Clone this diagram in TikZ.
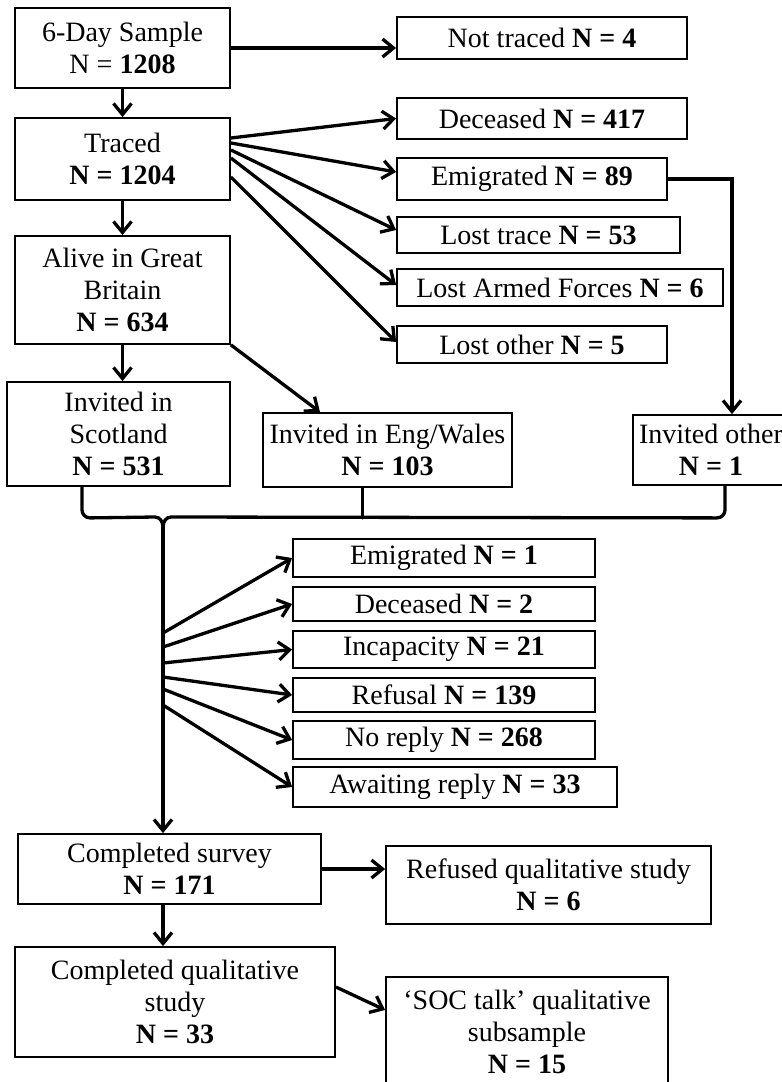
\documentclass[tikz,border=0pt]{standalone}
\usepackage{fontspec}
\setmainfont{Liberation Serif}
\usetikzlibrary{arrows.meta}
\tikzset{
    box/.style={draw,line width=1.8pt,inner sep=0pt,align=center},
    myarrow/.style={-{Straight Barb[length=11pt,width=18pt]},line width=3.3pt},
    myline/.style={line width=3.3pt,line cap=round}
}
\begin{document}
\begin{tikzpicture}[x=1pt,y=-1pt,font=\fontsize{28}{32}\selectfont]
\path[use as bounding box,fill=white](0,0) rectangle (782,1082);
% first column
\node[box,minimum width=215pt,minimum height=80pt](sample) at (122.5,48){6-Day Sample\\N = \textbf{1208}};
\node[box,minimum width=215pt,minimum height=82pt](traced) at (122.5,159){Traced\\\textbf{N = 1204}};
\node[box,minimum width=215pt,minimum height=108pt](alive) at (122.5,290){Alive in Great\\Britain\\\textbf{N = 634}};
% losses after tracing
\node[box,minimum width=290pt,minimum height=42pt](nottraced) at (542,38){Not traced \textbf{N = 4}};
\node[box,minimum width=290pt,minimum height=41pt](deceased) at (542,118.5){Deceased \textbf{N = 417}};
\node[box,minimum width=270pt,minimum height=42pt](emigrated) at (532,179){Emigrated \textbf{N = 89}};
\node[box,minimum width=283pt,minimum height=36pt](losttrace) at (538.5,235){Lost trace \textbf{N = 53}};
\node[box,minimum width=326pt,minimum height=37pt](lostforces) at (560,287.5){Lost Armed Forces \textbf{N = 6}};
\node[box,minimum width=270pt,minimum height=37pt](lostother) at (532,344.5){Lost other \textbf{N = 5}};
% invited
\node[box,minimum width=223pt,minimum height=104pt](scotland) at (118.5,434){Invited in\\Scotland\\\textbf{N = 531}};
\node[box,minimum width=249pt,minimum height=74pt](engwales) at (387.5,450){Invited in Eng/Wales\\\textbf{N = 103}};
\node[box,minimum width=156pt,minimum height=70pt](invother) at (711,450){Invited other\\\textbf{N = 1}};
% survey outcomes
\node[box,minimum width=302pt,minimum height=38pt](emigone) at (444,558){Emigrated \textbf{N = 1}};
\node[box,minimum width=302pt,minimum height=34pt](decone) at (444,604){Deceased \textbf{N = 2}};
\node[box,minimum width=302pt,minimum height=37pt](incap) at (444,649.5){Incapacity \textbf{N = 21}};
\node[box,minimum width=302pt,minimum height=34pt](refusal) at (444,695){Refusal \textbf{N = 139}};
\node[box,minimum width=302pt,minimum height=38pt](noreply) at (444,740){No reply \textbf{N = 268}};
\node[box,minimum width=324pt,minimum height=40pt](awaiting) at (455,787){Awaiting reply \textbf{N = 33}};
\node[box,minimum width=303pt,minimum height=70pt](survey) at (169.5,869){Completed survey\\\textbf{N = 171}};
\node[box,minimum width=325pt,minimum height=78pt](refusedq) at (548.5,885){Refused qualitative study\\\textbf{N = 6}};
\node[box,minimum width=320pt,minimum height=110pt](complq) at (175,1002){Completed qualitative\\study\\\textbf{N = 33}};
\node[box,minimum width=282pt,minimum height=110pt](soctalk) at (527,1032){‘SOC talk’ qualitative\\subsample\\\textbf{N = 15}};
% connectors
\draw[myarrow] (sample.east) -- (sample.east -| nottraced.west);
\draw[myarrow] (sample.south) -- (traced.north);
\draw[myarrow] (traced.south) -- (alive.north);
\foreach \b/\dy/\ey in {deceased/21/0,emigrated/16/7,losttrace/9/5,lostforces/1/2.5,lostother/-18/2.5}
    \draw[myarrow] ([yshift=\dy pt]traced.east) -- ([yshift=\ey pt]\b.west);
\draw[myarrow] (emigrated.east) -| ([xshift=21pt]invother.north);
\draw[myarrow] (alive.south) -- (alive.south |- scotland.north);
\draw[myarrow] (alive.south east) -- ([xshift=-67.5pt]engwales.north);
% brace joining the invited groups
\coordinate (cusp) at (163,527);
\draw[myline] ([xshift=-36.5pt]scotland.south) -- ++(0,23) to[out=-90,in=180] ++(8,8) -- (155,517) to[out=0,in=90] (cusp);
\draw[myline] ([xshift=14pt]invother.south) -- ++(0,24) to[out=-90,in=0] ++(-8,8) -- (171,517) to[out=180,in=90] (cusp);
\draw[myline] ([xshift=-25pt]engwales.south) -- ++(0,30);
\foreach \b/\y in {emigone/633,decone/647,incap/663,refusal/677,noreply/689,awaiting/705}{
    \coordinate (s\b) at (163,\y);
    \draw[myarrow] (s\b) -- (\b.west);
}
\draw[myarrow] (cusp) -- (cusp |- survey.north);
\draw[myarrow] (survey.east) -- (survey.east -| refusedq.west);
\draw[myarrow] (cusp |- survey.south) -- (cusp |- complq.north);
\draw[myarrow] ([yshift=15pt]complq.east) -- ([yshift=22pt]soctalk.west);
\end{tikzpicture}
\end{document}
